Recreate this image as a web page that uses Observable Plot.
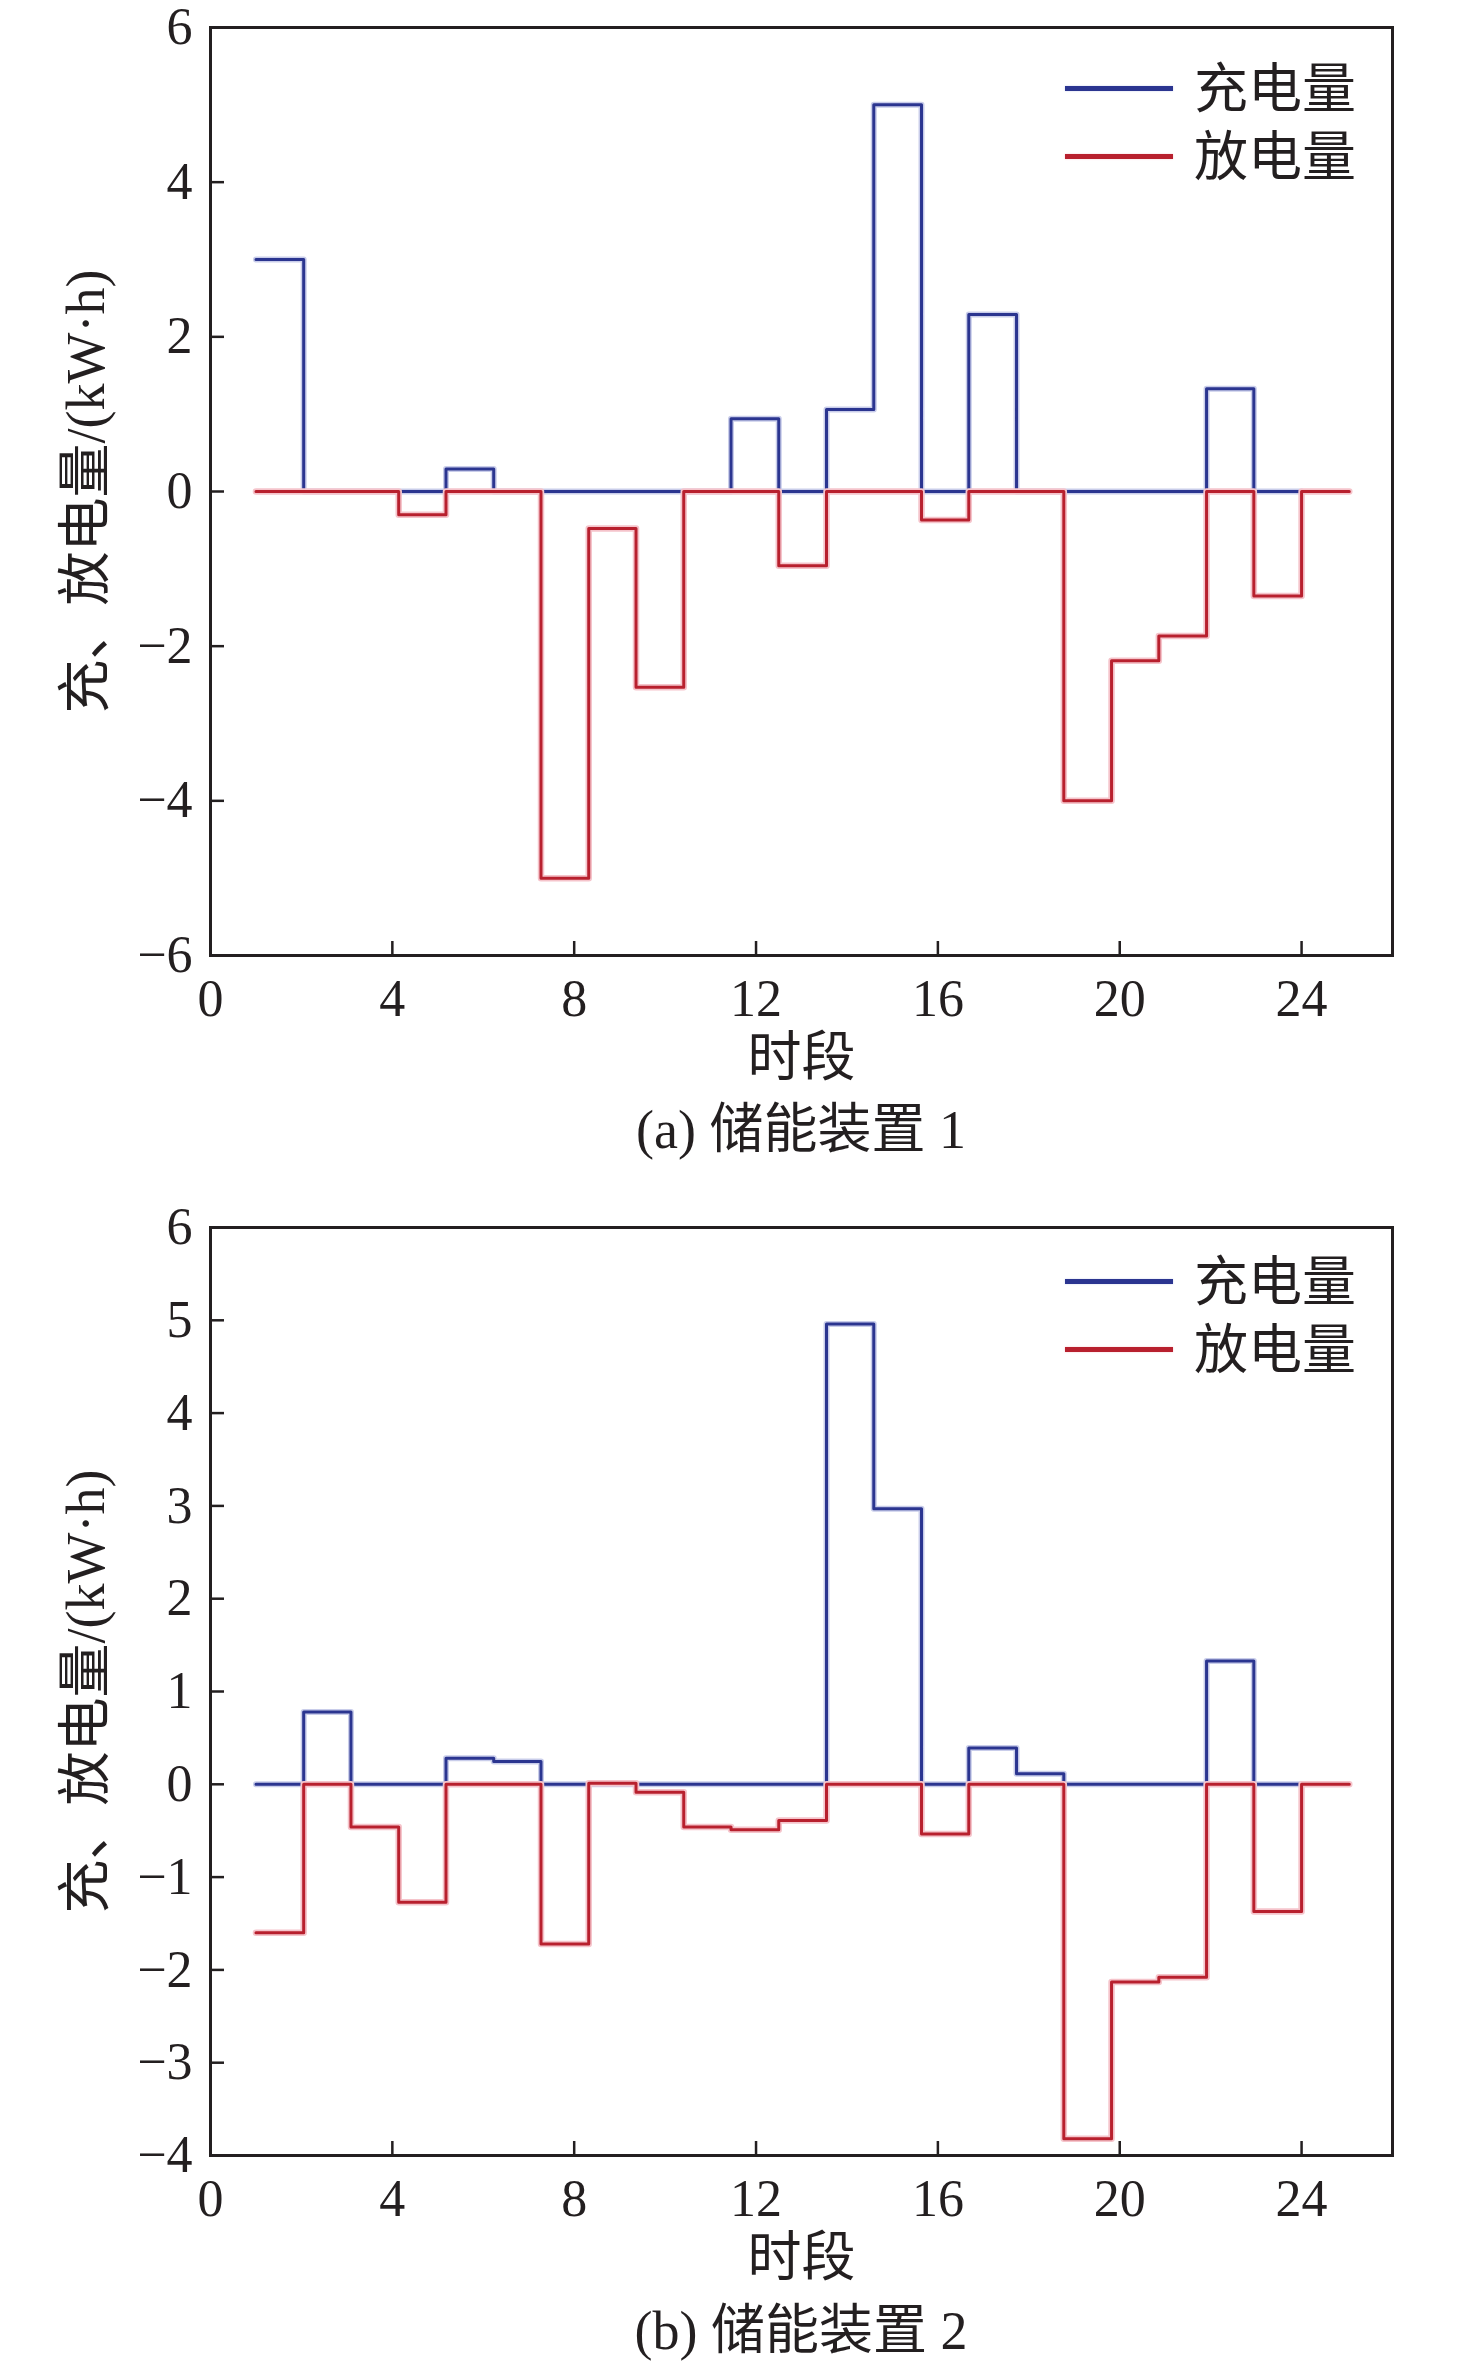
<!DOCTYPE html>
<html>
<head>
<meta charset="utf-8">
<script src="https://cdn.jsdelivr.net/npm/d3@7"></script>
<script src="https://cdn.jsdelivr.net/npm/@observablehq/plot@0.6"></script>
<style>
  html, body { margin: 0; padding: 0; background: #ffffff; }
  #fig { position: relative; width: 1476px; height: 2368px; background: #ffffff; overflow: hidden; }
  .panel { position: absolute; left: 0; }
  .cap { position: absolute; transform: translate(-50%, -50%); white-space: nowrap;
         font-family: "Liberation Serif", "Noto Sans CJK SC", serif; font-size: 54px; color: #231f20; line-height: 1; }
  .leg-line { position: absolute; height: 5px; }
  .leg-text { position: absolute; transform: translateY(-50%); white-space: nowrap;
              font-family: "Noto Sans CJK SC", sans-serif; font-size: 54px; color: #231f20; line-height: 1; }
</style>
</head>
<body>
<div id="fig"></div>
<script>
// ---------- data ----------
// step boundaries along the 时段 axis
const stepEdges = [1, 2.05, 3.09, 4.14, 5.18, 6.23, 7.27, 8.32, 9.36, 10.41, 11.45, 12.5,
                   13.55, 14.59, 15.64, 16.68, 17.73, 18.77, 19.82, 20.86, 21.91, 22.95, 24, 25.05];

// (a) 储能装置 1
const chargeA    = [3, 0, 0, 0, 0.29, 0, 0, 0, 0, 0, 0.94, 0, 1.06, 5.0, 0, 2.29, 0, 0, 0, 0, 1.33, 0];
const dischargeA = [0, 0, 0, -0.3, 0, 0, -5.0, -0.48, -2.53, 0, 0, -0.96, 0, 0, -0.37, 0, 0, -4.0, -2.19, -1.87, 0, -1.35, 0];

// (b) 储能装置 2
const chargeB    = [0, 0.78, 0, 0, 0.28, 0.245, 0, 0, 0, 0, 0, 0, 4.96, 2.97, 0, 0.39, 0.115, 0, 0, 0, 1.33, 0];
const dischargeB = [-1.6, 0, -0.46, -1.27, 0, 0, -1.72, 0.01, -0.085, -0.46, -0.49, -0.39, 0, 0, -0.535, 0, 0, -3.82, -2.13, -2.08, 0, -1.37, 0];

const xTicks  = [0, 4, 8, 12, 16, 20, 24];
const yTicksA = [-6, -4, -2, 0, 2, 4, 6];
const yTicksB = [-4, -3, -2, -1, 0, 1, 2, 3, 4, 5, 6];
const xDomain = [0, 26];
const yDomainA = [-6, 6];
const yDomainB = [-4, 6];

const seriesNames = ["充电量", "放电量"];
const xLabel = "时段";
const yLabel = "充、放电量/(kW·h)";
const captions = ["(a) 储能装置 1", "(b) 储能装置 2"];

// ---------- styling ----------
const BLUE = "#2b3590", BLUE_HALO = "#c9cdea";
const RED = "#b8202e", RED_HALO = "#f5c4cb";
const INK = "#231f20";

// turn interval values into step points (last value held until the final edge)
function stepPoints(values) {
  const pts = values.map((v, i) => ({x: stepEdges[i], y: v}));
  pts.push({x: stepEdges[values.length], y: values[values.length - 1]});
  return pts;
}

function panel(charge, discharge, yDomain, yTicks) {
  const blue = stepPoints(charge);
  const red = stepPoints(discharge);
  return Plot.plot({
    width: 1476,
    height: 1090,
    marginLeft: 210,
    marginRight: 84,
    marginTop: 27,
    marginBottom: 135,
    x: {domain: xDomain},
    y: {domain: yDomain},
    style: {
      fontFamily: "'Liberation Serif', 'Noto Sans CJK SC', serif",
      fontSize: "52px",
      color: INK,
      background: "transparent",
      overflow: "visible"
    },
    marks: [
      // tick labels
      Plot.axisX({ticks: xTicks, tickSize: 0, tickPadding: 24, label: null}),
      Plot.axisY({ticks: yTicks, tickSize: 0, tickPadding: 18, label: null}),
      // inward tick marks
      Plot.axisX({ticks: xTicks, tickSize: 14, dy: -14, fill: "none", tickFormat: () => "", label: null, stroke: INK, strokeWidth: 2.5}),
      Plot.axisY({ticks: yTicks, tickSize: 14, dx: 14, fill: "none", tickFormat: () => "", label: null, stroke: INK, strokeWidth: 2.5}),
      // series
      Plot.line(blue, {x: "x", y: "y", curve: "step-after", stroke: BLUE_HALO, strokeWidth: 6}),
      Plot.line(blue, {x: "x", y: "y", curve: "step-after", stroke: BLUE, strokeWidth: 3}),
      Plot.line(red, {x: "x", y: "y", curve: "step-after", stroke: RED_HALO, strokeWidth: 6.5}),
      Plot.line(red, {x: "x", y: "y", curve: "step-after", stroke: RED, strokeWidth: 3}),
      Plot.frame({stroke: INK, strokeWidth: 3}),
      // axis titles
      Plot.text([xLabel], {frameAnchor: "bottom", dy: 103, lineAnchor: "middle", textAnchor: "middle",
                           fontSize: 54, fontFamily: "'Noto Sans CJK SC', sans-serif", fill: INK}),
      Plot.text([yLabel], {frameAnchor: "left", dx: -124, rotate: -90, lineAnchor: "middle", textAnchor: "middle",
                           fontSize: 54, fill: INK})
    ]
  });
}

const fig = document.getElementById("fig");

function addPanel(svg, top) {
  svg.classList.add("panel");
  svg.style.top = top + "px";
  fig.appendChild(svg);
}

function addCaption(text, cx, cy) {
  const d = document.createElement("div");
  d.className = "cap";
  d.textContent = text;
  d.style.left = cx + "px";
  d.style.top = cy + "px";
  fig.appendChild(d);
}

function addLegend(yBlue, yRed) {
  [[BLUE, yBlue, seriesNames[0]], [RED, yRed, seriesNames[1]]].forEach(([c, y, name]) => {
    const l = document.createElement("div");
    l.className = "leg-line";
    l.style.left = "1065px";
    l.style.width = "108px";
    l.style.top = (y - 2.5) + "px";
    l.style.background = c;
    l.style.boxShadow = "0 0 2px " + (c === RED ? RED_HALO : BLUE_HALO);
    fig.appendChild(l);
    const t = document.createElement("div");
    t.className = "leg-text";
    t.textContent = name;
    t.style.left = "1194px";
    t.style.top = (y - 3) + "px";
    fig.appendChild(t);
  });
}

addPanel(panel(chargeA, dischargeA, yDomainA, yTicksA), 0);
addCaption(captions[0], 801, 1130);
addLegend(88, 156);

addPanel(panel(chargeB, dischargeB, yDomainB, yTicksB), 1200);
addCaption(captions[1], 801, 2331);
addLegend(1281, 1349);
</script>
</body>
</html>
